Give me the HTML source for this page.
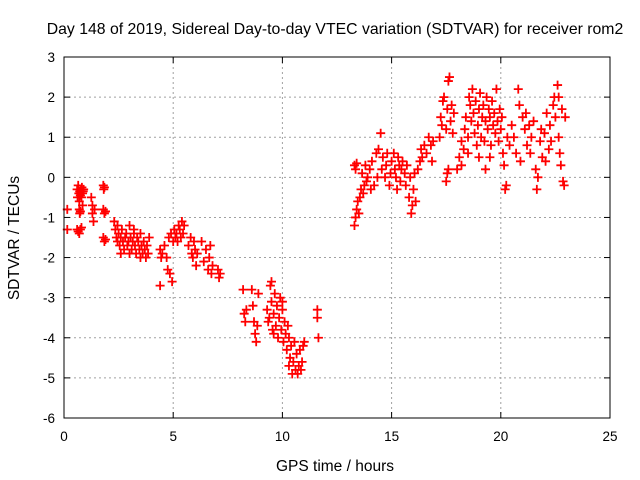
<!DOCTYPE html>
<html><head><meta charset="utf-8"><style>
body{margin:0;background:#fff;}
svg{display:block;font-family:"Liberation Sans",sans-serif;}
</style></head><body>
<svg id="chart" width="640" height="480">
<text x="335" y="34" font-size="15.8" text-anchor="middle" fill="#000">Day 148 of 2019, Sidereal Day-to-day VTEC variation (SDTVAR) for receiver rom2</text>
<text x="335" y="471" font-size="15.5" text-anchor="middle">GPS time / hours</text>
<text transform="translate(19,238) rotate(-90)" font-size="15.5" text-anchor="middle">SDTVAR / TECUs</text>
<g id="grid"></g><g id="ticks"></g><g id="marks"></g>
<rect x="64" y="57" width="546" height="361" fill="none" stroke="#000" stroke-width="1"/>
</svg>
<script>
const xTicks=[0,5,10,15,20,25];
const yTicks=[3,2,1,0,-1,-2,-3,-4,-5,-6];
const times=[0.15,0.15,0.6,0.62,0.65,0.68,0.7,0.72,0.75,0.78,0.8,0.82,0.85,0.7,0.72,0.75,0.6,0.65,0.7,0.75,0.8,0.85,0.88,0.9,
1.25,1.3,1.3,1.35,1.4,1.8,1.82,1.85,1.8,1.85,1.9,1.8,1.85,1.9,
2.3,2.35,2.4,2.45,2.5,2.55,2.6,2.65,2.7,2.75,2.8,2.85,2.9,2.95,3.0,3.05,3.1,3.15,3.2,3.25,3.3,3.35,3.4,3.45,3.5,3.55,3.6,3.65,3.7,3.75,3.8,3.85,2.6,3.0,3.2,2.45,3.5,3.9,
4.4,4.4,4.45,4.5,4.6,4.7,4.75,4.8,4.85,4.9,4.95,5.0,5.05,5.1,5.15,5.2,5.25,5.3,5.35,5.4,5.45,5.5,
5.7,5.8,5.85,5.9,5.95,6.0,6.05,6.1,6.3,6.4,6.5,6.6,6.65,6.7,6.75,6.8,7.05,7.1,7.15,
8.2,8.25,8.3,8.35,8.6,8.65,8.7,8.75,8.8,8.85,8.9,
9.3,9.35,9.4,9.45,9.5,9.55,9.6,9.65,9.7,9.75,9.8,9.85,9.9,9.95,10.0,10.05,10.1,10.15,10.2,10.25,10.3,10.35,10.4,10.45,10.5,10.55,10.6,10.65,10.7,10.75,10.8,10.85,10.9,10.95,11.0,9.5,10.0,10.3,9.6,
11.6,11.6,11.65,
13.3,13.35,13.4,13.3,13.35,13.4,13.45,13.5,13.55,13.6,13.65,13.7,13.75,13.8,13.85,13.9,14.0,14.05,14.1,14.2,14.3,14.35,14.4,14.5,14.55,14.6,14.7,14.75,14.8,14.9,14.95,15.0,15.1,15.15,15.2,15.25,15.3,15.35,15.4,15.45,15.5,15.6,15.65,15.7,15.8,15.85,15.9,15.95,16.0,16.05,16.1,16.2,16.3,16.35,16.4,16.5,16.6,16.7,16.8,16.85,16.9,
17.2,17.25,17.3,17.35,17.4,17.5,17.55,17.6,17.65,17.7,17.75,17.5,17.55,17.6,17.8,17.85,
18.0,18.1,18.2,18.3,18.35,18.4,18.5,18.55,18.6,18.65,18.7,18.75,18.8,18.85,18.9,18.95,19.0,19.05,19.1,19.15,19.2,19.25,19.3,19.35,19.4,19.45,19.5,19.55,19.6,19.65,19.7,19.75,19.8,19.85,19.9,19.95,20.0,20.05,20.1,20.15,20.2,20.25,20.3,20.4,20.5,20.6,20.7,20.8,20.85,20.9,
18.2,18.5,19.0,19.5,19.3,
21.0,21.1,21.15,21.2,21.3,21.35,21.4,21.5,21.6,21.65,21.7,21.8,21.85,21.9,22.0,22.05,22.1,22.2,22.25,22.3,22.4,22.45,22.5,22.6,22.65,22.7,22.75,22.8,22.85,22.9,22.95,22.65];
const sdtvar=[-0.8,-1.3,-0.3,-0.5,-0.2,-0.4,-0.6,-0.35,-0.45,-0.3,-0.5,-0.25,-0.4,-0.8,-0.9,-0.85,-1.3,-1.35,-1.4,-1.3,-1.25,-0.7,-0.35,-0.3,
-0.5,-0.7,-0.9,-1.1,-0.8,-0.2,-0.3,-0.25,-0.8,-0.9,-0.85,-1.5,-1.6,-1.55,
-1.1,-1.3,-1.5,-1.6,-1.4,-1.7,-1.5,-1.3,-1.6,-1.8,-1.5,-1.4,-1.7,-1.6,-1.2,-1.5,-1.8,-1.6,-1.4,-1.7,-1.9,-1.5,-1.6,-1.8,-1.4,-1.7,-1.9,-1.6,-1.8,-2.0,-1.7,-1.9,-1.9,-1.9,-1.3,-1.2,-2.0,-1.5,
-2.7,-1.8,-2.0,-1.9,-1.7,-2.0,-2.3,-1.5,-2.4,-1.4,-2.6,-1.6,-1.3,-1.5,-1.4,-1.6,-1.2,-1.3,-1.5,-1.1,-1.4,-1.2,
-1.7,-1.5,-1.9,-2.0,-1.6,-1.8,-2.2,-1.9,-1.6,-2.1,-1.8,-2.3,-2.0,-1.7,-2.4,-2.2,-2.3,-2.5,-2.4,
-2.8,-3.4,-3.6,-3.3,-2.8,-3.2,-3.6,-3.9,-4.1,-3.7,-2.9,
-3.3,-3.6,-3.5,-2.7,-3.1,-3.8,-3.4,-2.9,-3.7,-3.2,-4.0,-3.5,-3.0,-3.8,-3.3,-4.1,-3.6,-3.9,-4.3,-3.7,-4.0,-4.5,-4.2,-4.9,-4.6,-4.1,-4.8,-4.4,-4.9,-4.7,-4.3,-4.8,-4.6,-4.2,-4.1,-2.6,-3.1,-4.7,-3.9,
-3.3,-3.5,-4.0,
-1.2,-1.0,-0.8,0.3,0.2,0.35,-0.6,-0.9,-0.5,-0.3,0.1,-0.4,-0.2,0.3,-0.1,0.0,0.2,-0.3,0.4,-0.2,0.6,0.0,0.7,1.1,0.2,0.5,0.0,0.3,0.6,-0.2,0.1,0.4,0.6,0.2,0.0,-0.3,0.5,0.3,-0.1,0.2,0.4,0.1,-0.2,0.3,-0.5,0.0,-0.9,-0.7,-0.3,0.1,-0.6,0.2,0.4,0.7,0.5,0.8,0.6,1.0,0.8,0.4,0.9,
1.0,1.5,1.3,1.9,2.0,1.2,1.7,2.4,2.5,1.4,1.8,-0.1,0.1,0.2,1.1,1.6,
0.2,0.5,0.9,0.7,1.2,1.5,1.0,2.0,1.8,1.4,2.2,1.6,1.1,1.9,0.8,1.3,1.7,2.1,1.0,1.5,1.8,0.9,1.4,2.0,1.2,1.7,1.5,0.8,1.9,1.3,1.6,1.1,2.2,1.4,0.9,1.7,1.2,1.5,0.6,0.3,-0.3,-0.2,1.0,0.8,1.3,1.0,0.6,2.2,1.8,0.4,
0.3,0.6,0.5,0.5,0.2,
1.5,1.2,1.6,0.8,1.3,0.6,1.0,1.4,0.2,-0.3,0.0,0.9,1.2,0.5,1.1,0.4,1.6,0.7,1.3,0.9,1.8,2.0,1.5,2.3,1.0,0.6,0.3,1.7,-0.1,-0.2,1.5,2.0];
const NS='http://www.w3.org/2000/svg';
const L=64,R=610,T=57,B=418;
function xs(v){return L+(v-0)/(25-0)*(R-L);}
function ys(v){return T+(3-v)/(3-(-6))*(B-T);}
const grid=document.getElementById('grid'),ticks=document.getElementById('ticks'),marks=document.getElementById('marks');
function mk(tag,attrs,parent){const e=document.createElementNS(NS,tag);for(const k in attrs)e.setAttribute(k,attrs[k]);parent.appendChild(e);return e;}
xTicks.forEach(t=>{const x=xs(t);
 if(t>0&&t<25){const g=mk('line',{x1:x,x2:x,y1:T,y2:B,stroke:'#a0a0a0','stroke-dasharray':'2,3'},grid);
 
 }
 mk('line',{x1:x,x2:x,y1:B,y2:B-6,stroke:'#000'},ticks);mk('line',{x1:x,x2:x,y1:T,y2:T+6,stroke:'#000'},ticks);
 const tx=mk('text',{x:x,y:B+23,'font-size':13.5,'text-anchor':'middle'},ticks);tx.textContent=t;
 
 });
yTicks.forEach(t=>{const y=ys(t);
 if(t<3&&t>-6){const g=mk('line',{x1:L,x2:R,y1:y,y2:y,stroke:'#a0a0a0','stroke-dasharray':'2,3'},grid);
 
 }
 mk('line',{x1:L,x2:L+6,y1:y,y2:y,stroke:'#000'},ticks);mk('line',{x1:R,x2:R-6,y1:y,y2:y,stroke:'#000'},ticks);
 const tx=mk('text',{x:L-9,y:y+5,'font-size':13.5,'text-anchor':'end'},ticks);tx.textContent=t;
 
 });
times.forEach((t,i)=>{const x=xs(t),y=ys(sdtvar[i]);
 const p=mk('path',{d:`M${x-4.5},${y}H${x+4.5}M${x},${y-4.5}V${y+4.5}`,stroke:'#ff0000','stroke-width':1.8,fill:'none'},marks);
 
 });
</script>
</body></html>
